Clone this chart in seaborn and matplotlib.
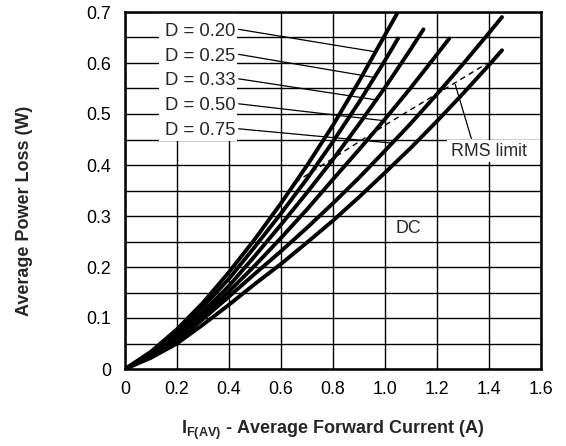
import matplotlib
matplotlib.use("Agg")
import matplotlib.pyplot as plt
import seaborn as sns
import pandas as pd
import numpy as np
from matplotlib.patches import Rectangle

# ---------------- data ----------------
series_names = ["D = 0.20", "D = 0.25", "D = 0.33", "D = 0.50", "D = 0.75", "DC"]

current_d020 = [0, 0.1, 0.2, 0.3, 0.4, 0.5, 0.6, 0.7, 0.8, 0.9, 1.0, 1.05]
power_d020 = [0, 0.034, 0.078, 0.130, 0.190, 0.255, 0.325, 0.399, 0.478, 0.564, 0.655, 0.700]

current_d025 = [0, 0.1, 0.2, 0.3, 0.4, 0.5, 0.6, 0.7, 0.8, 0.9, 1.0, 1.05]
power_d025 = [0, 0.031, 0.073, 0.122, 0.177, 0.240, 0.305, 0.373, 0.446, 0.523, 0.605, 0.648]

current_d033 = [0, 0.1, 0.2, 0.3, 0.4, 0.5, 0.6, 0.7, 0.8, 0.9, 1.0, 1.1, 1.148]
power_d033 = [0, 0.027, 0.068, 0.112, 0.163, 0.222, 0.283, 0.346, 0.411, 0.480, 0.552, 0.628, 0.666]

current_d050 = [0, 0.1, 0.2, 0.3, 0.4, 0.5, 0.6, 0.7, 0.8, 0.9, 1.0, 1.1, 1.2, 1.247]
power_d050 = [0, 0.026, 0.062, 0.104, 0.152, 0.203, 0.257, 0.313, 0.372, 0.430, 0.490, 0.552, 0.617, 0.648]

current_d075 = [0, 0.1, 0.2, 0.3, 0.4, 0.5, 0.6, 0.7, 0.8, 0.9, 1.0, 1.1, 1.2, 1.3, 1.4, 1.45]
power_d075 = [0, 0.024, 0.055, 0.098, 0.142, 0.187, 0.231, 0.277, 0.325, 0.375, 0.428, 0.482, 0.539,
              0.598, 0.659, 0.690]

current_dc = [0, 0.1, 0.2, 0.3, 0.4, 0.5, 0.6, 0.7, 0.8, 0.9, 1.0, 1.1, 1.2, 1.3, 1.4, 1.45]
power_dc = [0, 0.022, 0.050, 0.087, 0.126, 0.167, 0.206, 0.248, 0.291, 0.337, 0.385, 0.434, 0.486,
            0.540, 0.596, 0.625]

rms_current = [0.655, 1.00, 1.395]
rms_power = [0.366, 0.478, 0.600]

x_ticks = [0, 0.2, 0.4, 0.6, 0.8, 1.0, 1.2, 1.4, 1.6]
x_tick_labels = ["0", "0.2", "0.4", "0.6", "0.8", "1.0", "1.2", "1.4", "1.6"]
y_ticks = [0, 0.1, 0.2, 0.3, 0.4, 0.5, 0.6, 0.7]
y_tick_labels = ["0", "0.1", "0.2", "0.3", "0.4", "0.5", "0.6", "0.7"]

currents = [current_d020, current_d025, current_d033, current_d050, current_d075, current_dc]
powers = [power_d020, power_d025, power_d033, power_d050, power_d075, power_dc]

frames = []
for name, cx, py in zip(series_names, currents, powers):
    frames.append(pd.DataFrame({"current": cx, "power": py, "series": name}))
df = pd.concat(frames, ignore_index=True)

# ---------------- style ----------------
sns.set_theme(style="white")
plt.rcParams["font.family"] = ["Liberation Sans", "DejaVu Sans"]
plt.rcParams["mathtext.fontset"] = "custom"
plt.rcParams["mathtext.rm"] = "Liberation Sans"
plt.rcParams["mathtext.bf"] = "Liberation Sans:bold"
plt.rcParams["mathtext.it"] = "Liberation Sans:italic"

fig = plt.figure(figsize=(5.66, 4.46), dpi=100)
ax = fig.add_axes([125 / 566, 77 / 446, 416 / 566, 357 / 446])

sns.lineplot(data=df, x="current", y="power", units="series", estimator=None,
             sort=False, color="black", linewidth=2.8, ax=ax, zorder=3,
             solid_capstyle="round", solid_joinstyle="round")

sns.lineplot(x=rms_current, y=rms_power, color="black", linewidth=1.0,
             linestyle=(0, (4, 3)), ax=ax, zorder=2.8, sort=False, estimator=None)

ax.set_xlim(0, 1.6)
ax.set_ylim(0, 0.7)
ax.set_xticks(x_ticks)
ax.set_xticklabels(x_tick_labels)
ax.set_yticks(y_ticks)
ax.set_yticklabels(y_tick_labels)
ax.set_yticks(np.arange(0.05, 0.7, 0.1), minor=True)
ax.tick_params(axis="both", which="both", length=0, labelsize=12.8, colors="black")
ax.tick_params(axis="x", pad=9)
ax.tick_params(axis="y", pad=10)

ax.grid(True, which="major", axis="both", color="black", linewidth=1.0, zorder=0.5)
ax.grid(True, which="minor", axis="y", color="black", linewidth=1.0, zorder=0.5)
ax.set_axisbelow(True)

for sp in ax.spines.values():
    sp.set_visible(True)
    sp.set_color("black")
    sp.set_linewidth(1.8)
    sp.set_zorder(5)

# white areas behind annotation labels
ax.add_patch(Rectangle((0.13, 0.447), 0.30, 0.253, facecolor="white",
                       edgecolor="none", zorder=1.5))
ax.add_patch(Rectangle((1.237, 0.405), 0.363, 0.044, facecolor="white",
                       edgecolor="none", zorder=1.5))

# duty-cycle labels with leader lines
label_y = [0.662, 0.613, 0.565, 0.516, 0.467]
leader_end = [(0.962, 0.622), (0.955, 0.572), (0.962, 0.528), (0.994, 0.487), (1.026, 0.443)]
for name, ly, (ex, ey) in zip(series_names[:5], label_y, leader_end):
    ax.text(0.155, ly, name, ha="left", va="center", fontsize=13.3, zorder=6)
    ax.plot([0.437, ex], [ly + 0.004, ey], color="black", linewidth=0.9, zorder=2.9)

ax.text(1.09, 0.276, "DC", ha="center", va="center", fontsize=12.8, zorder=6)
ax.text(1.40, 0.426, "RMS limit", ha="center", va="center", fontsize=12.8, zorder=6)
ax.plot([1.27, 1.332], [0.558, 0.452], color="black", linewidth=0.9, zorder=2.9)

ax.set_xlabel(r"$\mathbf{I}_{\mathbf{F(AV)}}$ - Average Forward Current (A)",
              fontsize=13, fontweight="bold")
ax.set_ylabel("Average Power Loss (W)", fontsize=13, fontweight="bold")
ax.xaxis.set_label_coords(0.5, -0.14)
ax.yaxis.set_label_coords(-0.22, 0.443)

fig.savefig("out.png", dpi=100)
